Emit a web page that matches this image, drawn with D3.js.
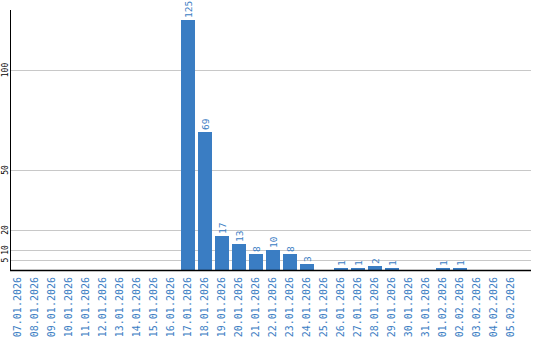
<!DOCTYPE html>
<html>
<head>
<meta charset="utf-8">
<script src="https://cdn.jsdelivr.net/npm/d3@7"></script>
<style>
  body { margin: 0; background: #fff; }
  svg { display: block; }
</style>
</head>
<body>
<div id="chart"></div>
<script>
"use strict";

var dates = ["07.01.2026", "08.01.2026", "09.01.2026", "10.01.2026", "11.01.2026",
    "12.01.2026", "13.01.2026", "14.01.2026", "15.01.2026", "16.01.2026",
    "17.01.2026", "18.01.2026", "19.01.2026", "20.01.2026", "21.01.2026",
    "22.01.2026", "23.01.2026", "24.01.2026", "25.01.2026", "26.01.2026",
    "27.01.2026", "28.01.2026", "29.01.2026", "30.01.2026", "31.01.2026",
    "01.02.2026", "02.02.2026", "03.02.2026", "04.02.2026", "05.02.2026"];
var counts = [0, 0, 0, 0, 0, 0, 0, 0, 0, 0,
    125, 69, 17, 13, 8, 10, 8, 3, 0, 1,
    1, 2, 1, 0, 0, 1, 1, 0, 0, 0];
var yTicks = [5, 10, 20, 50, 100];

var width = 540, height = 340;
var blue = "#3a7dc3";
var mono = "'DejaVu Sans Mono', monospace";

var svg = d3.select("#chart").append("svg")
    .attr("width", width)
    .attr("height", height);

var x = d3.scaleBand()
    .domain(dates)
    .range([9.5, 519.5])
    .paddingInner(3 / 17)
    .paddingOuter(1.5 / 17);

var y = d3.scaleLinear()
    .domain([0, 100])
    .range([270, 70]);

// gridlines
svg.append("g")
    .selectAll("line")
    .data(yTicks)
    .enter().append("line")
    .attr("x1", 11).attr("x2", 531)
    .attr("y1", function (d) { return y(d) + 0.5; })
    .attr("y2", function (d) { return y(d) + 0.5; })
    .attr("stroke", "#c8c8c8")
    .attr("stroke-width", 1);

// y tick labels (rotated)
svg.append("g")
    .selectAll("text")
    .data(yTicks)
    .enter().append("text")
    .attr("transform", function (d) { return "translate(7.5," + y(d) + ") rotate(-90)"; })
    .attr("text-anchor", "middle")
    .attr("font-family", mono)
    .attr("font-size", 8)
    .attr("fill", "#000")
    .text(function (d) { return d; });

// bars
svg.append("g")
    .selectAll("rect")
    .data(counts)
    .enter().append("rect")
    .attr("x", function (d, i) { return x(dates[i]); })
    .attr("width", x.bandwidth())
    .attr("y", function (d) { return y(d); })
    .attr("height", function (d) { return y(0) - y(d); })
    .attr("fill", blue);

// value labels
svg.append("g")
    .selectAll("text")
    .data(counts.map(function (d, i) { return { v: d, date: dates[i] }; })
        .filter(function (d) { return d.v > 0; }))
    .enter().append("text")
    .attr("transform", function (d) {
        return "translate(" + (x(d.date) + x.bandwidth() / 2 + 4) + "," + (y(d.v) - 2) + ") rotate(-90)";
    })
    .attr("text-anchor", "start")
    .attr("font-family", mono)
    .attr("font-size", 9.5)
    .attr("fill", blue)
    .text(function (d) { return d.v; });

// axes lines
svg.append("line")
    .attr("x1", 10.5).attr("x2", 10.5)
    .attr("y1", 10).attr("y2", 271)
    .attr("stroke", "#000").attr("stroke-width", 1);
svg.append("line")
    .attr("x1", 10).attr("x2", 531)
    .attr("y1", 270.5).attr("y2", 270.5)
    .attr("stroke", "#000").attr("stroke-width", 1.5);

// date labels
svg.append("g")
    .selectAll("text")
    .data(dates)
    .enter().append("text")
    .attr("transform", function (d) {
        return "translate(" + (x(d) + x.bandwidth() / 2 + 3) + ",277) rotate(-90)";
    })
    .attr("text-anchor", "end")
    .attr("font-family", mono)
    .attr("font-size", 10)
    .attr("fill", blue)
    .text(function (d) { return d; });
</script>
</body>
</html>
